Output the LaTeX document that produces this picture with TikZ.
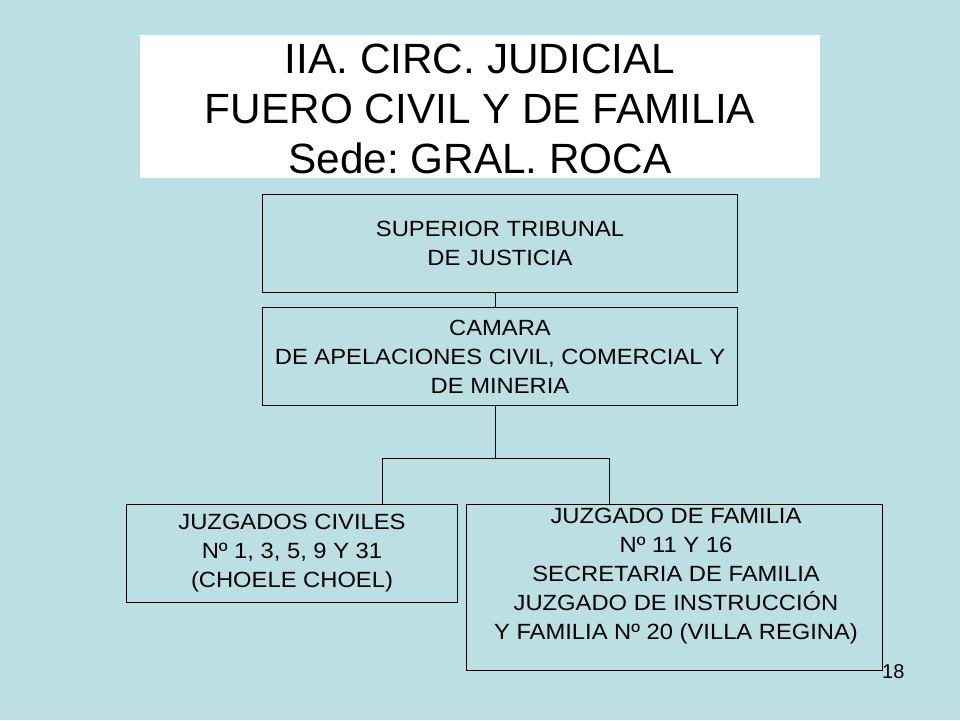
\documentclass[tikz,border=0pt]{standalone}
\usepackage{fontspec}
\setmainfont{Liberation Sans}
\newfontfamily\boxfont{Liberation Sans}[FakeStretch=1.08]
\definecolor{bgblue}{RGB}{187,223,227}
\frenchspacing
\begin{document}
\begin{tikzpicture}[x=1pt,y=-1pt,
  box/.style={draw=black, line width=1pt, inner sep=0pt, anchor=north west},
  lbl/.style={font=\boxfont\fontsize{22}{29}\selectfont, align=center, inner sep=0pt},
  ttl/.style={font=\fontsize{42.3}{50}\selectfont, align=center, inner sep=0pt},
  link/.style={draw=black, line width=1pt}]
\fill[bgblue] (0,0) rectangle (960,720);
\useasboundingbox (0,0) rectangle (960,720);
% title
\node[fill=white, inner sep=0pt, anchor=north west, minimum width=680pt, minimum height=143pt] (title) at (140,35) {};
\node[ttl] (titletext) at (480,108.5) {IIA. CIRC. JUDICIAL\\FUERO CIVIL Y DE FAMILIA\\Sede: GRAL. ROCA};
% boxes
\node[box, lbl, minimum width=475pt, minimum height=98pt] (stj) at (262,194) {SUPERIOR TRIBUNAL\\DE JUSTICIA};
\node[box, lbl, minimum width=475pt, minimum height=98pt] (cam) at (262,307) {CAMARA\\DE APELACIONES CIVIL, COMERCIAL Y\\DE MINERIA};
\node[box, lbl, minimum width=331pt, minimum height=98pt] (lbox) at (126,504) {JUZGADOS CIVILES\\Nº 1, 3, 5, 9 Y 31\\(CHOELE CHOEL)};
\node[box, minimum width=416pt, minimum height=166pt] (rbox) at (466,504) {};
\node[lbl, anchor=north] (rtext) at (676,508) {JUZGADO DE FAMILIA\\Nº 11 Y 16\\SECRETARIA DE FAMILIA\\JUZGADO DE INSTRUCCIÓN\\Y FAMILIA Nº 20 (VILLA REGINA)};
% page number
\node[font=\fontsize{20}{24}\selectfont, inner sep=0pt, anchor=base west] (pnum) at (882,678) {18};
% connectors
\coordinate (j) at (495.5,458);
\coordinate (bl) at (382,458);
\coordinate (br) at (609,458);
\draw[link] (stj.south -| j) -- (cam.north -| j);
\draw[link] (cam.south -| j) -- (j);
\draw[link] (bl) -- (br);
\draw[link] (bl) -- (bl |- lbox.north);
\draw[link] (br) -- (br |- rbox.north);
\end{tikzpicture}
\end{document}
